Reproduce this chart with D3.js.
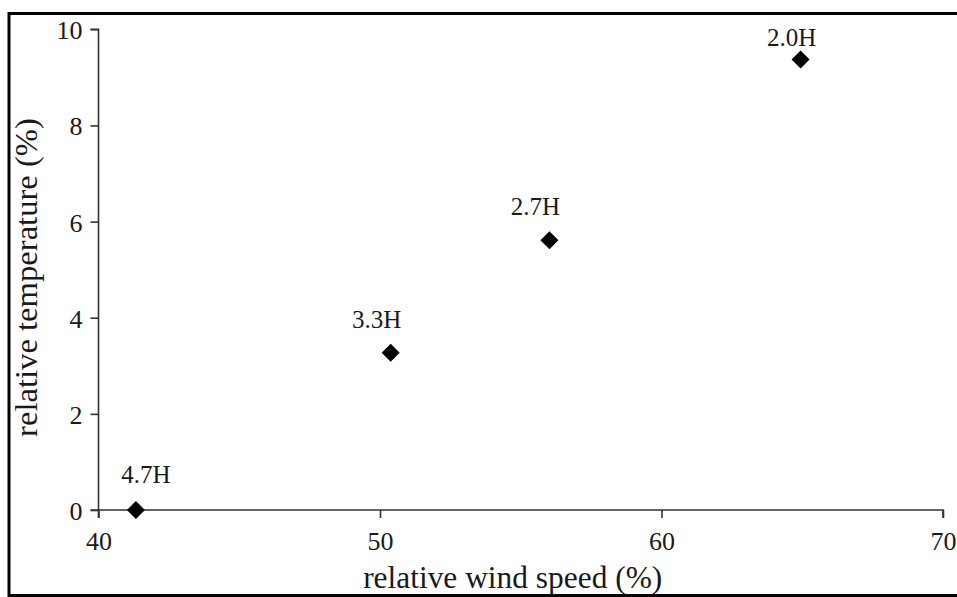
<!DOCTYPE html>
<html>
<head>
<meta charset="utf-8">
<script src="https://cdn.jsdelivr.net/npm/d3@7"></script>
<style>
  html, body { margin: 0; padding: 0; background: #fff; }
  svg { display: block; }
  text { font-family: "Liberation Serif", "Times New Roman", serif; fill: #1a1a1a; }
</style>
</head>
<body>
<svg id="chart" width="957" height="597"></svg>
<script>
// ---- data ----
const labels = ["4.7H", "3.3H", "2.7H", "2.0H"];
const windSpeed = [41.33, 50.38, 56.02, 64.94];      // relative wind speed (%)
const temperature = [0.0, 3.27, 5.61, 9.37];         // relative temperature (%)
const xTicks = [40, 50, 60, 70];
const yTicks = [0, 2, 4, 6, 8, 10];
const xTitle = "relative wind speed (%)";
const yTitle = "relative temperature (%)";

// ---- layout (label placement relative to marker) ----
const labelDx = [10, -14, -14, -9];
const labelDy = [-27, -25, -25, -14];

const svg = d3.select("#chart");
const W = 957, H = 597;
const m = { left: 98.5, right: W - 943, top: 29.3, bottom: H - 510 };

// frame
svg.append("rect")
  .attr("x", 9).attr("y", 13.5)
  .attr("width", 980).attr("height", 582)
  .attr("fill", "none").attr("stroke", "#000").attr("stroke-width", 3);

const x = d3.scaleLinear().domain([40, 70]).range([m.left, W - m.right]);
const y = d3.scaleLinear().domain([0, 10]).range([H - m.bottom, m.top]);

const stroke = "#333";
const tickScale = 1.04;

// x axis
const gx = svg.append("g")
  .attr("transform", `translate(0,${y(0)})`)
  .call(d3.axisBottom(x).tickValues(xTicks).tickSize(8).tickPadding(0).tickFormat(d3.format("d")));
gx.select(".domain").attr("stroke", stroke).attr("stroke-width", 1.6).attr("d", `M${x(40)},8V0H${x(70)}V8`);
gx.selectAll(".tick line").attr("stroke", stroke).attr("stroke-width", 1.6);
gx.selectAll(".tick text")
  .attr("font-family", "Liberation Serif")
  .attr("font-size", 25)
  .attr("fill", "#1a1a1a")
  .attr("y", null).attr("dy", null)
  .attr("transform", `translate(0,40) scale(${tickScale},1)`);

// y axis
const gy = svg.append("g")
  .attr("transform", `translate(${x(40)},0)`)
  .call(d3.axisLeft(y).tickValues(yTicks).tickSize(8).tickPadding(0).tickFormat(d3.format("d")));
gy.select(".domain").attr("stroke", stroke).attr("stroke-width", 1.6).attr("d", `M-8,${y(10)}H0V${y(0)}H-8`);
gy.selectAll(".tick line").attr("stroke", stroke).attr("stroke-width", 1.6);
gy.selectAll(".tick text")
  .attr("font-family", "Liberation Serif")
  .attr("font-size", 25)
  .attr("fill", "#1a1a1a")
  .attr("x", null).attr("dy", null)
  .attr("text-anchor", "end")
  .attr("transform", `translate(-16,9.5) scale(${tickScale},1)`);

// points
const pts = labels.map((l, i) => ({ label: l, xv: windSpeed[i], yv: temperature[i], dx: labelDx[i], dy: labelDy[i] }));
const sym = d3.symbol().type(d3.symbolSquare).size(162);
svg.append("g").selectAll("path").data(pts).join("path")
  .attr("d", sym)
  .attr("fill", "#000")
  .attr("transform", d => `translate(${x(d.xv)},${y(d.yv)}) rotate(45)`);

svg.append("g").selectAll("text").data(pts).join("text")
  .attr("text-anchor", "middle")
  .attr("font-size", 25)
  .attr("transform", d => `translate(${x(d.xv) + d.dx},${y(d.yv) + d.dy})`)
  .text(d => d.label);

// axis titles
svg.append("text")
  .attr("text-anchor", "middle")
  .attr("font-size", 30.5)
  .attr("transform", `translate(512.7,588) scale(1.03,1)`)
  .text(xTitle);

svg.append("text")
  .attr("text-anchor", "middle")
  .attr("font-size", 30.5)
  .attr("transform", `translate(36.5,277.5) rotate(-90) scale(1.07,1)`)
  .text(yTitle);
</script>
</body>
</html>
